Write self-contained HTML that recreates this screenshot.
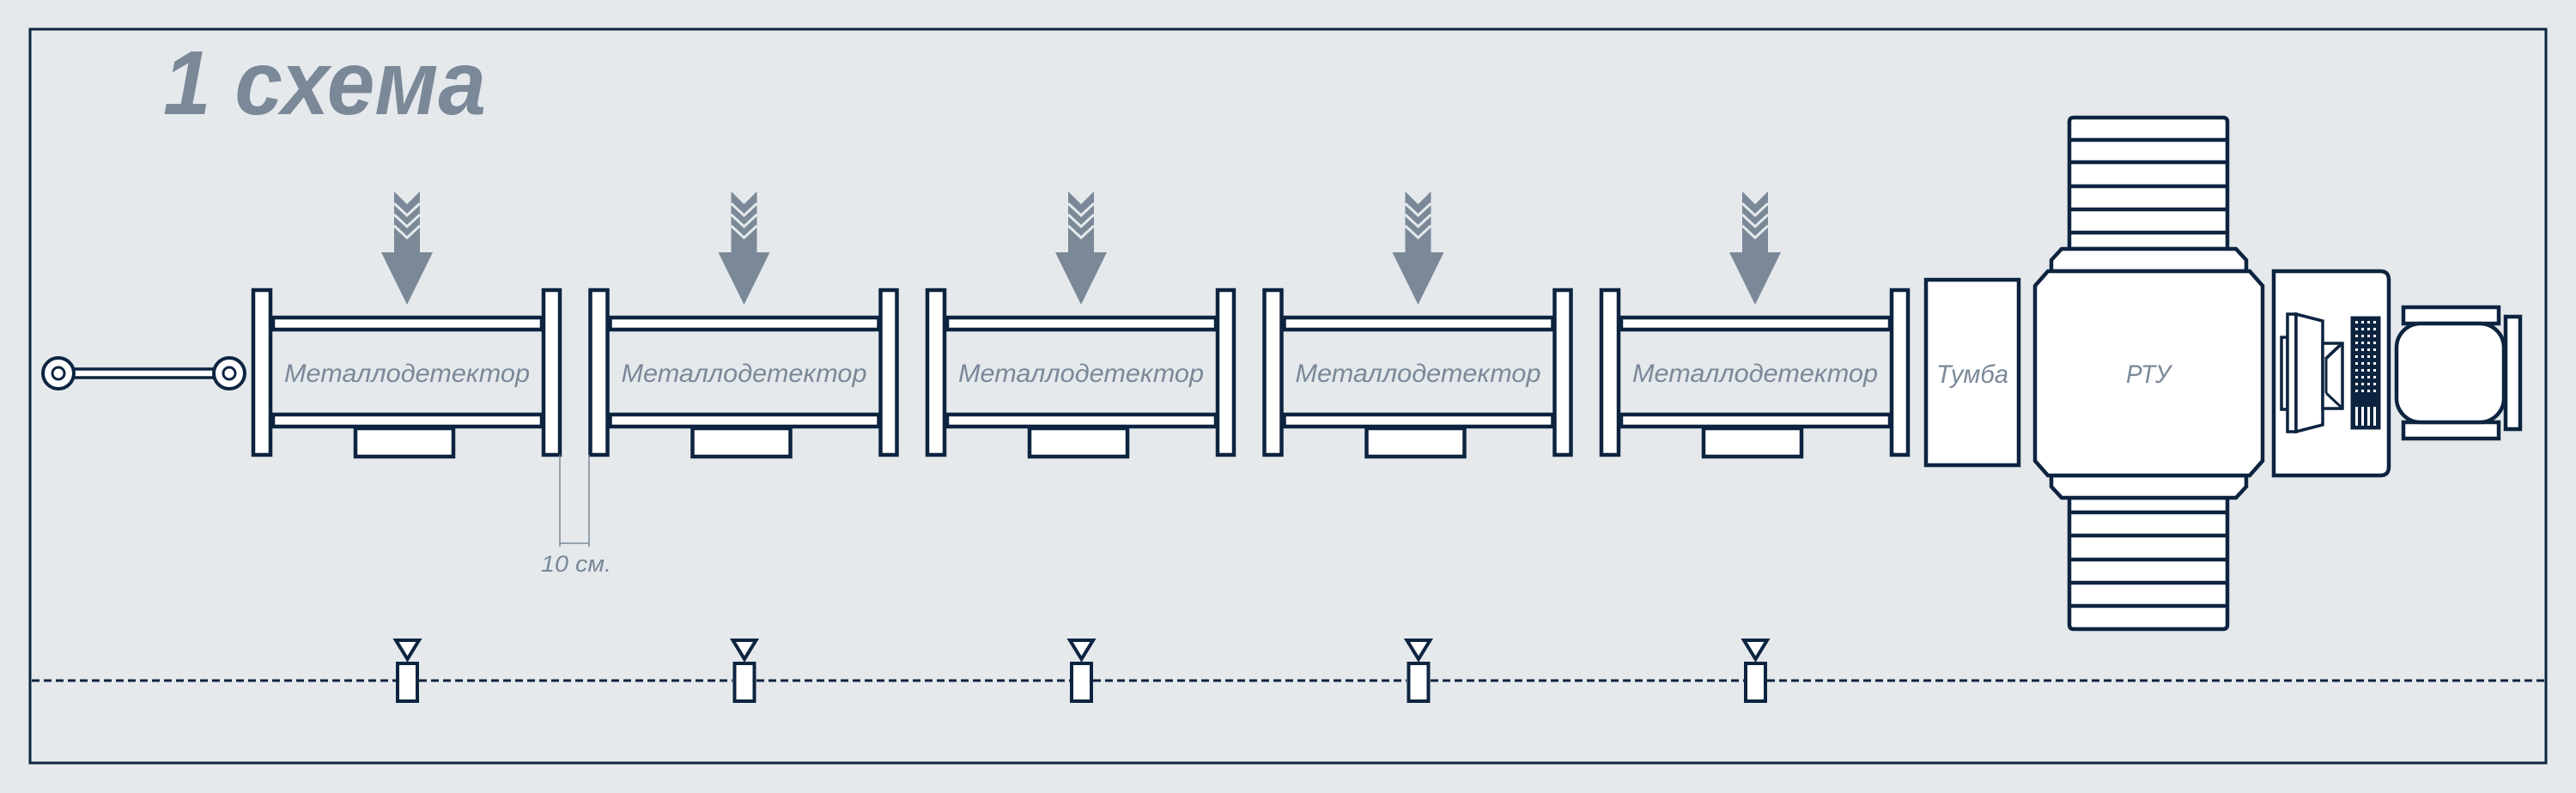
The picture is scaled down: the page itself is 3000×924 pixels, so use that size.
<!DOCTYPE html>
<html><head><meta charset="utf-8"><style>
html,body{margin:0;padding:0;background:#e5e9ec;}
svg{display:block;}
text{font-family:"Liberation Sans",sans-serif;font-style:italic;fill:#7a8898;}
</style></head><body>
<svg width="3000" height="924" viewBox="0 0 3000 924" xmlns="http://www.w3.org/2000/svg">
<rect x="0" y="0" width="3000" height="924" fill="#e5e9ec"/>
<rect x="35" y="34" width="2930" height="855" fill="none" stroke="#0d2440" stroke-width="3"/>
<text x="190" y="133" font-size="106" font-weight="bold" textLength="376" lengthAdjust="spacingAndGlyphs">1 схема</text>

<g id="det" stroke="#0d2440" stroke-width="4.5" fill="#fff">
  <rect x="318" y="370" width="313" height="14"/>
  <rect x="318" y="483" width="313" height="14"/>
  <rect x="414" y="499" width="114" height="33"/>
  <rect x="295" y="338" width="20" height="192"/>
  <rect x="633" y="338" width="19" height="192"/>
  <polygon points="459,223 474,238 489,223 489,294 504,294 474,355 444,294 459,294" fill="#7a8898" stroke="none"/>
  <polyline points="459,237 474,251 489,237" fill="none" stroke="#e5e9ec" stroke-width="3"/>
  <polyline points="459,250 474,264 489,250" fill="none" stroke="#e5e9ec" stroke-width="3"/>
  <polyline points="459,263 474,277 489,263" fill="none" stroke="#e5e9ec" stroke-width="3"/>
  <text x="331" y="445" font-size="30" stroke="none" textLength="286" lengthAdjust="spacingAndGlyphs">Металлодетектор</text>
  <polygon points="461,746 488,746 474.5,768" stroke-width="4"/>
  <rect x="463" y="773" width="23" height="44" stroke-width="4"/>
</g>
<use href="#det" transform="translate(392.5,0)"/>
<use href="#det" transform="translate(785,0)"/>
<use href="#det" transform="translate(1177.5,0)"/>
<use href="#det" transform="translate(1570,0)"/>

<!-- dashed line -->
<g stroke="#0d2440" stroke-width="3" stroke-dasharray="9,5">
  <line x1="37" y1="793" x2="461" y2="793"/>
  <line x1="488" y1="793" x2="853" y2="793"/>
  <line x1="881" y1="793" x2="1246" y2="793"/>
  <line x1="1273" y1="793" x2="1638" y2="793"/>
  <line x1="1666" y1="793" x2="2031" y2="793"/>
  <line x1="2058" y1="793" x2="2963" y2="793"/>
</g>

<!-- pull cord -->
<g stroke="#0d2440" stroke-width="4" fill="#fff">
  <rect x="84" y="430" width="168" height="10" stroke-width="3.5"/>
  <circle cx="68" cy="435" r="18"/>
  <circle cx="68" cy="435" r="7" stroke-width="3"/>
  <circle cx="267" cy="435" r="18"/>
  <circle cx="267" cy="435" r="7" stroke-width="3"/>
</g>

<!-- 10 cm -->
<g stroke="#7a8898" stroke-width="1.5" fill="none">
  <line x1="652" y1="530" x2="652" y2="637"/>
  <line x1="686" y1="530" x2="686" y2="637"/>
  <line x1="652" y1="633" x2="686" y2="633"/>
</g>
<text x="630" y="666" font-size="27" textLength="82" lengthAdjust="spacingAndGlyphs">10 см.</text>

<!-- right side -->
<g stroke="#0d2440" stroke-width="4.5" fill="#fff">
  <rect x="2243" y="326" width="108" height="216"/>
  <!-- top conveyor -->
  <path d="M2410,290 L2410,142 Q2410,137 2415,137 L2589,137 Q2594,137 2594,142 L2594,290 Z"/>
  <line x1="2410" y1="163" x2="2594" y2="163"/>
  <line x1="2410" y1="189" x2="2594" y2="189"/>
  <line x1="2410" y1="217" x2="2594" y2="217"/>
  <line x1="2410" y1="244" x2="2594" y2="244"/>
  <line x1="2410" y1="271" x2="2594" y2="271"/>
  <polygon points="2389,303 2401,290 2604,290 2616,303 2616,316 2389,316"/>
  <!-- bottom conveyor -->
  <path d="M2410,580 L2410,728 Q2410,733 2415,733 L2589,733 Q2594,733 2594,728 L2594,580 Z"/>
  <line x1="2410" y1="597" x2="2594" y2="597"/>
  <line x1="2410" y1="624" x2="2594" y2="624"/>
  <line x1="2410" y1="652" x2="2594" y2="652"/>
  <line x1="2410" y1="679" x2="2594" y2="679"/>
  <line x1="2410" y1="706" x2="2594" y2="706"/>
  <polygon points="2389,554 2616,554 2616,567 2604,580 2401,580 2389,567"/>
  <!-- main body -->
  <polygon points="2385,316 2620,316 2635,333 2635,537 2620,554 2385,554 2370,537 2370,333"/>
  <!-- desk -->
  <path d="M2648,316 L2772,316 Q2782,316 2782,326 L2782,544 Q2782,554 2772,554 L2648,554 Z"/>
  <!-- monitor -->
  <rect x="2657" y="393" width="7" height="84" stroke-width="3.5"/>
  <rect x="2664" y="366" width="10" height="137" stroke-width="3.5"/>
  <polygon points="2674,366 2705,374 2705,495 2674,503" stroke-width="3.5"/>
  <rect x="2705" y="400" width="23" height="76" stroke-width="3.5"/>
  <polyline points="2708,418 2725,402 M2708,458" fill="none" stroke-width="3"/>
  <line x1="2709" y1="418" x2="2726" y2="402" stroke-width="3"/>
  <line x1="2709" y1="458" x2="2726" y2="474" stroke-width="3"/>
  <line x1="2709" y1="418" x2="2709" y2="458" stroke-width="3"/>
  <!-- keyboard -->
  <rect x="2739" y="370" width="32" height="129" fill="#0d2440" stroke-width="3"/>
  <!-- chair -->
  <rect x="2799" y="358" width="111" height="19"/>
  <rect x="2799" y="492" width="111" height="19"/>
  <rect x="2791" y="377" width="125" height="115" rx="28"/>
  <rect x="2918" y="369" width="17" height="131"/>
</g>
<!-- keyboard dots -->
<g fill="#fff">
  <rect x="2743" y="374" width="3" height="3"/><rect x="2750" y="374" width="3" height="3"/><rect x="2757" y="374" width="3" height="3"/><rect x="2764" y="374" width="3" height="3"/>
  <rect x="2743" y="382" width="3" height="3"/><rect x="2750" y="382" width="3" height="3"/><rect x="2757" y="382" width="3" height="3"/><rect x="2764" y="382" width="3" height="3"/>
  <rect x="2743" y="390" width="3" height="3"/><rect x="2750" y="390" width="3" height="3"/><rect x="2757" y="390" width="3" height="3"/><rect x="2764" y="390" width="3" height="3"/>
  <rect x="2743" y="398" width="3" height="3"/><rect x="2750" y="398" width="3" height="3"/><rect x="2757" y="398" width="3" height="3"/><rect x="2764" y="398" width="3" height="3"/>
  <rect x="2743" y="406" width="3" height="3"/><rect x="2750" y="406" width="3" height="3"/><rect x="2757" y="406" width="3" height="3"/><rect x="2764" y="406" width="3" height="3"/>
  <rect x="2743" y="414" width="3" height="3"/><rect x="2750" y="414" width="3" height="3"/><rect x="2757" y="414" width="3" height="3"/><rect x="2764" y="414" width="3" height="3"/>
  <rect x="2743" y="422" width="3" height="3"/><rect x="2750" y="422" width="3" height="3"/><rect x="2757" y="422" width="3" height="3"/><rect x="2764" y="422" width="3" height="3"/>
  <rect x="2743" y="430" width="3" height="3"/><rect x="2750" y="430" width="3" height="3"/><rect x="2757" y="430" width="3" height="3"/><rect x="2764" y="430" width="3" height="3"/>
  <rect x="2743" y="438" width="3" height="3"/><rect x="2750" y="438" width="3" height="3"/><rect x="2757" y="438" width="3" height="3"/><rect x="2764" y="438" width="3" height="3"/>
  <rect x="2743" y="446" width="3" height="3"/><rect x="2750" y="446" width="3" height="3"/><rect x="2757" y="446" width="3" height="3"/><rect x="2764" y="446" width="3" height="3"/>
  <rect x="2743" y="454" width="3" height="3"/><rect x="2750" y="454" width="3" height="3"/><rect x="2757" y="454" width="3" height="3"/><rect x="2764" y="454" width="3" height="3"/>
  <rect x="2743" y="474" width="3" height="22"/><rect x="2750" y="474" width="3" height="22"/><rect x="2757" y="474" width="3" height="22"/><rect x="2764" y="474" width="3" height="22"/>
</g>
<text x="2255" y="446" font-size="30" textLength="84" lengthAdjust="spacingAndGlyphs">Тумба</text>
<text x="2476" y="446" font-size="30" textLength="52" lengthAdjust="spacingAndGlyphs">РТУ</text>
</svg>
</body></html>
